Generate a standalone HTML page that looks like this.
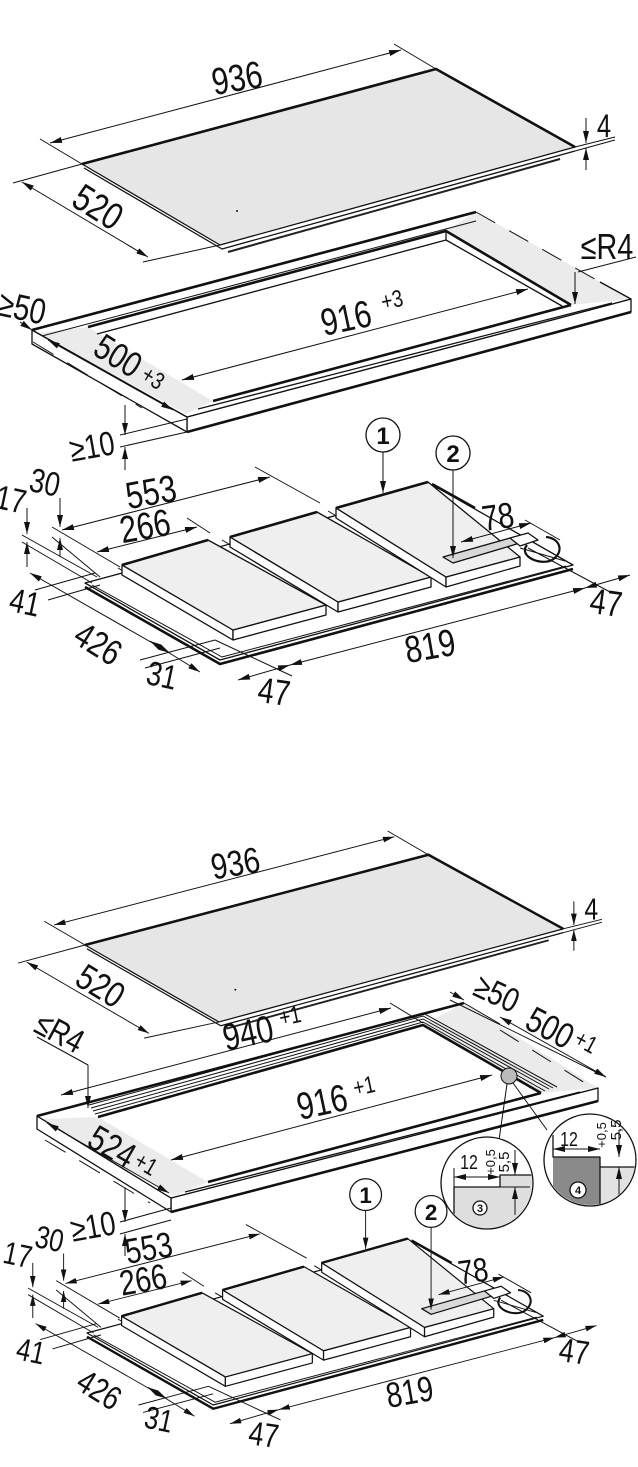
<!DOCTYPE html>
<html><head><meta charset="utf-8"><style>
html,body{margin:0;padding:0;background:#fff}
svg{display:block}
text{font-family:"Liberation Sans",sans-serif;fill:#111}
.o{stroke:#111;stroke-width:1.3;fill:none;stroke-linejoin:round}
.t{stroke:#111;stroke-width:2.6;fill:none}
.d{stroke:#111;stroke-width:1;fill:none}
.a{stroke:#111;stroke-width:1;fill:none;marker-start:url(#m);marker-end:url(#m)}
.e{stroke:#111;stroke-width:1;fill:none;marker-end:url(#m)}
.g{fill:#ebebeb}
.w{fill:#fff}
.gl{fill:#e6e6e6}
.mt{fill:#efefef}
.cg{fill:#d8d8d8}
</style></head><body>
<svg width="638" height="1467" viewBox="0 0 638 1467" xmlns="http://www.w3.org/2000/svg">
<defs>
<marker id="m" viewBox="0 0 12 6" refX="12" refY="3" markerWidth="12" markerHeight="6" orient="auto-start-reverse" markerUnits="userSpaceOnUse"><path d="M0,0L12,3L0,6z" fill="#111"/></marker>

<g id="glass">
  <polygon points="82,164 436,69 575,147 220,245" class="o gl"/>
  <polyline points="82,164 436,69 575,147" class="t"/>
  <polyline points="84,168 222,249 575,151" class="o"/>
  <polyline points="228,252 560,159" stroke="#222" stroke-width="2" fill="none"/>
  <circle cx="237" cy="211" r="1" fill="#111"/>
  <line x1="50" y1="143" x2="401" y2="50" class="a"/>
  <line x1="40" y1="139" x2="82" y2="164" class="d"/>
  <line x1="394" y1="44" x2="436" y2="69" class="d"/>
  <text font-size="38" transform="translate(237,78) rotate(-10) scale(.8,1)" text-anchor="middle" y="13">936</text>
  <line x1="22" y1="182" x2="148" y2="257" class="a"/>
  <line x1="13" y1="183" x2="82" y2="164" class="d"/>
  <line x1="143" y1="262" x2="220" y2="245" class="d"/>
  <text font-size="38" transform="translate(98,207) rotate(32) scale(.8,1)" text-anchor="middle" y="13">520</text>
  <line x1="575" y1="147" x2="615" y2="137" class="d"/>
  <line x1="575" y1="151" x2="615" y2="140" class="d"/>
  <line x1="586" y1="118" x2="586" y2="143" class="e"/>
  <line x1="586" y1="170" x2="586" y2="148" class="e"/>
  <text font-size="32" transform="translate(604,126) scale(.8,1)" text-anchor="middle" y="11">4</text>
</g>

<g id="cook">
  <polygon points="85,583 438,488 573,565 220,660" class="o w"/>
  <polyline points="85,587 220,664 573,569" stroke="#111" stroke-width="2.6" fill="none"/>
  <polyline points="92,585 222,657 566,566" class="d"/>
  <line x1="118" y1="568" x2="229" y2="634" class="d"/>
  <line x1="222" y1="540" x2="334" y2="606" class="d"/>
  <line x1="328" y1="511" x2="440" y2="577" class="d"/>
  <line x1="432" y1="484" x2="475" y2="508" class="t" stroke-width="2"/>
  <polygon points="122,565 233,630 233,640 122,575" class="o w"/>
  <polygon points="233,630 326,605 326,615 233,640" class="o w"/>
  <polygon points="122,565 208,540 326,605 233,630" class="o mt"/>
  <line x1="122" y1="565" x2="208" y2="540" class="t"/>
  <polygon points="230,537 338,602 338,612 230,547" class="o w"/>
  <polygon points="338,602 431,577 431,587 338,612" class="o w"/>
  <polygon points="230,537 317,512 431,577 338,602" class="o mt"/>
  <line x1="230" y1="537" x2="317" y2="512" class="t"/>
  <polygon points="336,508 446,577 446,587 336,518" class="o w"/>
  <polygon points="446,577 520,557 520,566 446,587" class="o w"/>
  <polygon points="336,508 428,482 520,557 446,577" class="o mt"/>
  <line x1="336" y1="508" x2="428" y2="482" class="t"/>
  <polygon points="443,557 510,538 520,543 453,563" class="o cg"/>
  <polygon points="510,538 528,533 538,540 520,546" class="o w"/>
  <path d="M527,545 C518,556 540,566 552,560 C565,552 560,538 546,537" stroke="#111" stroke-width="2.2" fill="none"/>
  <line x1="520" y1="548" x2="565" y2="561" class="d"/>
  <circle cx="383" cy="435" r="17" class="o w"/>
  <text font-size="24" font-weight="bold" x="383" y="444" text-anchor="middle">1</text>
  <line x1="383" y1="452" x2="383" y2="493" class="e"/>
  <circle cx="453" cy="453" r="17" class="o w"/>
  <text font-size="24" font-weight="bold" x="453" y="462" text-anchor="middle">2</text>
  <line x1="453" y1="470" x2="453" y2="558" class="e"/>
  <line x1="62" y1="530" x2="270" y2="477" class="a"/>
  <line x1="255" y1="467" x2="320" y2="503" class="d"/>
  <text font-size="38" transform="translate(151,492) rotate(-10) scale(.8,1)" text-anchor="middle" y="13">553</text>
  <line x1="97" y1="552" x2="197" y2="527" class="a"/>
  <line x1="187" y1="518" x2="210" y2="533" class="d"/>
  <text font-size="38" transform="translate(145,526) rotate(-10) scale(.8,1)" text-anchor="middle" y="13">266</text>
  <line x1="60" y1="498" x2="60" y2="527" class="e"/>
  <line x1="60" y1="557" x2="60" y2="538" class="e"/>
  <line x1="52" y1="527" x2="120" y2="567" class="d"/>
  <line x1="52" y1="537" x2="100" y2="577" class="d"/>
  <text font-size="34" transform="translate(45,482) rotate(12) scale(.8,1)" text-anchor="middle" y="12">30</text>
  <line x1="27" y1="508" x2="27" y2="534" class="e"/>
  <line x1="27" y1="567" x2="27" y2="542" class="e"/>
  <line x1="22" y1="535" x2="97" y2="577" class="d"/>
  <line x1="22" y1="542" x2="92" y2="583" class="d"/>
  <text font-size="34" transform="translate(11,499) rotate(12) scale(.8,1)" text-anchor="middle" y="12">17</text>
  <line x1="35" y1="590" x2="95" y2="573" class="d"/>
  <line x1="48" y1="600" x2="100" y2="585" class="d"/>
  <line x1="30" y1="573" x2="170" y2="653" class="a"/>
  <text font-size="34" transform="translate(25,602) rotate(12) scale(.8,1)" text-anchor="middle" y="12">41</text>
  <text font-size="36" transform="translate(98,644) rotate(32) scale(.8,1)" text-anchor="middle" y="12">426</text>
  <line x1="150" y1="641" x2="200" y2="672" class="a"/>
  <line x1="140" y1="660" x2="215" y2="640" class="d"/>
  <line x1="145" y1="668" x2="220" y2="648" class="d"/>
  <text font-size="34" transform="translate(162,675) rotate(12) scale(.8,1)" text-anchor="middle" y="12">31</text>
  <line x1="238" y1="680" x2="290" y2="665" class="a"/>
  <line x1="215" y1="640" x2="292" y2="676" class="d"/>
  <text font-size="36" transform="translate(274,692) rotate(8) scale(.8,1)" text-anchor="middle" y="12">47</text>
  <line x1="290" y1="665" x2="585" y2="588" class="a"/>
  <text font-size="38" transform="translate(430,646) rotate(-10) scale(.8,1)" text-anchor="middle" y="13">819</text>
  <line x1="528" y1="548" x2="610" y2="592" class="d"/>
  <line x1="585" y1="588" x2="630" y2="575" class="a"/>
  <text font-size="36" transform="translate(606,603) rotate(8) scale(.8,1)" text-anchor="middle" y="12">47</text>
  <line x1="461" y1="542" x2="531" y2="523" class="a"/>
  <line x1="525" y1="520" x2="560" y2="540" class="d"/>
  <text font-size="36" transform="translate(498,517) rotate(-8) scale(.8,1)" text-anchor="middle" y="12">78</text>
</g>
</defs>

<use href="#glass"/>

<polygon points="187,417 631,299 631,312 187,432" class="o w"/>
<polygon points="32,330 187,417 187,432 32,344" class="o w"/>
<polygon points="32,330 476,212 631,299 187,417" class="w"/>
<polygon points="37,333 88,327 213,401 186,414" class="g"/>
<polygon points="446,231 476,212 631,299 571,305" class="g"/>
<polygon points="88,327 446,231 571,305 213,401" class="w"/>
<polyline points="88,327 446,231 571,305" class="t"/>
<polyline points="97,334 446,240 562,306" class="o"/>
<line x1="446" y1="231" x2="446" y2="240" class="o"/>
<polyline points="213,401 571,305" class="t"/>
<line x1="198" y1="409" x2="612" y2="303" class="o"/>
<line x1="32" y1="330" x2="476" y2="212" class="t"/>
<line x1="42" y1="336" x2="476" y2="221" class="d"/>
<line x1="32" y1="330" x2="187" y2="417" class="o"/>
<line x1="187" y1="417" x2="631" y2="299" class="o"/>
<line x1="187" y1="432" x2="631" y2="312" class="t" stroke-width="2"/>
<line x1="476" y1="212" x2="600" y2="282" class="d" stroke-dasharray="22,16"/>
<line x1="600" y1="282" x2="631" y2="299" class="o"/>
<line x1="33" y1="342" x2="142" y2="408" class="d" stroke-dasharray="24,16"/>
<line x1="182" y1="380" x2="528" y2="289" class="a"/>
<text font-size="38" transform="translate(346,318) rotate(-12) scale(.8,1)" text-anchor="middle" y="13">916</text>
<text font-size="24" transform="translate(392,300) rotate(-12) scale(.8,1)" text-anchor="middle" y="8">+3</text>
<line x1="20" y1="322" x2="32" y2="330" class="e"/>
<line x1="48" y1="340" x2="173" y2="410" class="a"/>
<text font-size="36" transform="translate(22,308) rotate(12) scale(.8,1)" text-anchor="middle" y="12">≥50</text>
<text font-size="36" transform="translate(118,356) rotate(32) scale(.8,1)" text-anchor="middle" y="12">500</text>
<text font-size="24" transform="translate(153,378) rotate(32) scale(.8,1)" text-anchor="middle" y="8">+3</text>
<line x1="578" y1="272" x2="636" y2="257" class="d"/>
<line x1="575" y1="272" x2="575" y2="304" class="e"/>
<text font-size="36" transform="translate(607,247) scale(.8,1)" text-anchor="middle" y="12">≤R4</text>
<line x1="120" y1="435" x2="187" y2="419" class="d"/>
<line x1="120" y1="447" x2="187" y2="432" class="d"/>
<line x1="125" y1="405" x2="125" y2="435" class="e"/>
<line x1="125" y1="470" x2="125" y2="447" class="e"/>
<text font-size="34" transform="translate(92,446) rotate(-10) scale(.8,1)" text-anchor="middle" y="12">≥10</text>

<use href="#cook"/>

<g transform="matrix(0.97,0,0,0.95,5.46,789.2)"><use href="#glass"/></g>

<polygon points="171,1198 598,1088 598,1101 171,1212" class="o w"/>
<polygon points="37,1116 171,1198 171,1212 37,1129" class="o w"/>
<polygon points="37,1116 464,1003 598,1088 171,1198" class="w"/>
<polygon points="42,1119 98,1117 208,1182 174,1196" class="g"/>
<polygon points="423,1025 464,1003 598,1088 541,1093" class="g"/>
<polygon points="98,1117 423,1025 541,1093 208,1182" class="w"/>
<polyline points="98,1117 423,1025 541,1093" class="t"/>
<polyline points="95,1114 423,1022 545,1091" class="d"/>
<polyline points="93,1111 423,1019 549,1089" class="d"/>
<polyline points="91,1108 423,1016 553,1088" class="d"/>
<polyline points="89,1105 423,1013 557,1087" class="d"/>
<line x1="208" y1="1182" x2="541" y2="1093" class="t"/>
<line x1="185" y1="1192" x2="580" y2="1092" class="o"/>
<line x1="37" y1="1116" x2="464" y2="1003" class="t"/>
<line x1="37" y1="1116" x2="171" y2="1198" class="o"/>
<line x1="171" y1="1198" x2="598" y2="1088" class="o"/>
<line x1="171" y1="1212" x2="598" y2="1101" class="t" stroke-width="2"/>
<line x1="464" y1="1003" x2="500" y2="1024" class="d"/>
<line x1="500" y1="1030" x2="585" y2="1083" class="d" stroke-dasharray="22,16"/>
<line x1="45" y1="1140" x2="150" y2="1203" class="d" stroke-dasharray="24,16"/>
<line x1="61" y1="1095" x2="391" y2="1008" class="a"/>
<line x1="390" y1="1003" x2="423" y2="1023" class="d"/>
<text font-size="38" transform="translate(248,1033) rotate(-12) scale(.8,1)" text-anchor="middle" y="13">940</text>
<text font-size="24" transform="translate(290,1016) rotate(-12) scale(.8,1)" text-anchor="middle" y="8">+1</text>
<line x1="37" y1="1037" x2="88" y2="1065" class="d"/>
<line x1="88" y1="1065" x2="88" y2="1108" class="e"/>
<text font-size="34" transform="translate(60,1032) rotate(28) scale(.8,1)" text-anchor="middle" y="12">≤R4</text>
<line x1="450" y1="992" x2="464" y2="1000" class="e"/>
<line x1="450" y1="1000" x2="606" y2="1077" class="d"/>
<line x1="500" y1="1017" x2="606" y2="1077" class="a"/>
<text font-size="34" transform="translate(497,993) rotate(25) scale(.8,1)" text-anchor="middle" y="12">≥50</text>
<text font-size="36" transform="translate(550,1028) rotate(28) scale(.8,1)" text-anchor="middle" y="12">500</text>
<text font-size="24" transform="translate(586,1042) rotate(28) scale(.8,1)" text-anchor="middle" y="8">+1</text>
<line x1="171" y1="1160" x2="492" y2="1075" class="a"/>
<text font-size="38" transform="translate(322,1102) rotate(-12) scale(.8,1)" text-anchor="middle" y="13">916</text>
<text font-size="24" transform="translate(364,1086) rotate(-12) scale(.8,1)" text-anchor="middle" y="8">+1</text>
<line x1="47" y1="1123" x2="169" y2="1193" class="a"/>
<text font-size="36" transform="translate(112,1147) rotate(30) scale(.8,1)" text-anchor="middle" y="12">524</text>
<text font-size="24" transform="translate(146,1164) rotate(30) scale(.8,1)" text-anchor="middle" y="8">+1</text>
<line x1="120" y1="1222" x2="171" y2="1208" class="d"/>
<line x1="120" y1="1234" x2="171" y2="1220" class="d"/>
<line x1="125" y1="1188" x2="125" y2="1222" class="e"/>
<line x1="125" y1="1256" x2="125" y2="1234" class="e"/>
<text font-size="34" transform="translate(93,1226) rotate(-10) scale(.8,1)" text-anchor="middle" y="12">≥10</text>
<circle cx="509" cy="1076" r="8" fill="#bbb" stroke="#111" stroke-width="1"/>
<line x1="507" y1="1084" x2="499" y2="1140" class="d"/>
<line x1="513" y1="1083" x2="547" y2="1130" class="d"/>
<circle cx="487" cy="1183" r="46" class="o w"/>
<clipPath id="c3"><circle cx="487" cy="1183" r="45"/></clipPath>
<g clip-path="url(#c3)">
  <polygon points="454,1187 500,1187 500,1175 540,1175 540,1240 454,1240" fill="#dedede"/>
  <polyline points="454,1240 454,1187 500,1187 500,1175 540,1175" class="o"/>
  <line x1="454" y1="1177" x2="500" y2="1177" class="a"/>
  <line x1="454" y1="1168" x2="454" y2="1187" class="d"/>
  <line x1="515" y1="1150" x2="515" y2="1175" class="e"/>
  <line x1="515" y1="1215" x2="515" y2="1187" class="e"/>
  <line x1="500" y1="1187" x2="530" y2="1187" class="d"/>
</g>
<text font-size="20" transform="translate(469,1169) scale(.8,1)" text-anchor="middle">12</text>
<text font-size="13" transform="translate(495,1162) rotate(-90)" text-anchor="middle">+0,5</text>
<text font-size="15" transform="translate(509,1162) rotate(-90)" text-anchor="middle">5,5</text>
<circle cx="480" cy="1208" r="7" class="o w"/>
<text font-size="11" font-weight="bold" x="480" y="1212" text-anchor="middle">3</text>
<circle cx="590" cy="1160" r="46" class="o w"/>
<clipPath id="c4"><circle cx="590" cy="1160" r="45"/></clipPath>
<g clip-path="url(#c4)">
  <polygon points="553,1157 600,1157 600,1210 553,1210" fill="#8a8a8a"/>
  <polygon points="600,1167 640,1167 640,1210 600,1210" fill="#e2e2e2"/>
  <polyline points="553,1135 553,1157 600,1157 600,1210" class="o"/>
  <line x1="600" y1="1167" x2="640" y2="1167" class="o"/>
  <line x1="553" y1="1149" x2="600" y2="1149" class="a"/>
  <line x1="619" y1="1130" x2="619" y2="1157" class="e"/>
  <line x1="619" y1="1195" x2="619" y2="1167" class="e"/>
</g>
<text font-size="20" transform="translate(569,1146) scale(.8,1)" text-anchor="middle">12</text>
<text font-size="13" transform="translate(606,1135) rotate(-90)" text-anchor="middle">+0,5</text>
<text font-size="15" transform="translate(621,1130) rotate(-90)" text-anchor="middle">5,5</text>
<circle cx="578" cy="1190" r="8" class="o w"/>
<text font-size="11" font-weight="bold" x="578" y="1194" text-anchor="middle">4</text>

<g transform="matrix(0.935,0,0,0.935,7.525,787.9)"><use href="#cook"/></g>
</svg>
</body></html>
